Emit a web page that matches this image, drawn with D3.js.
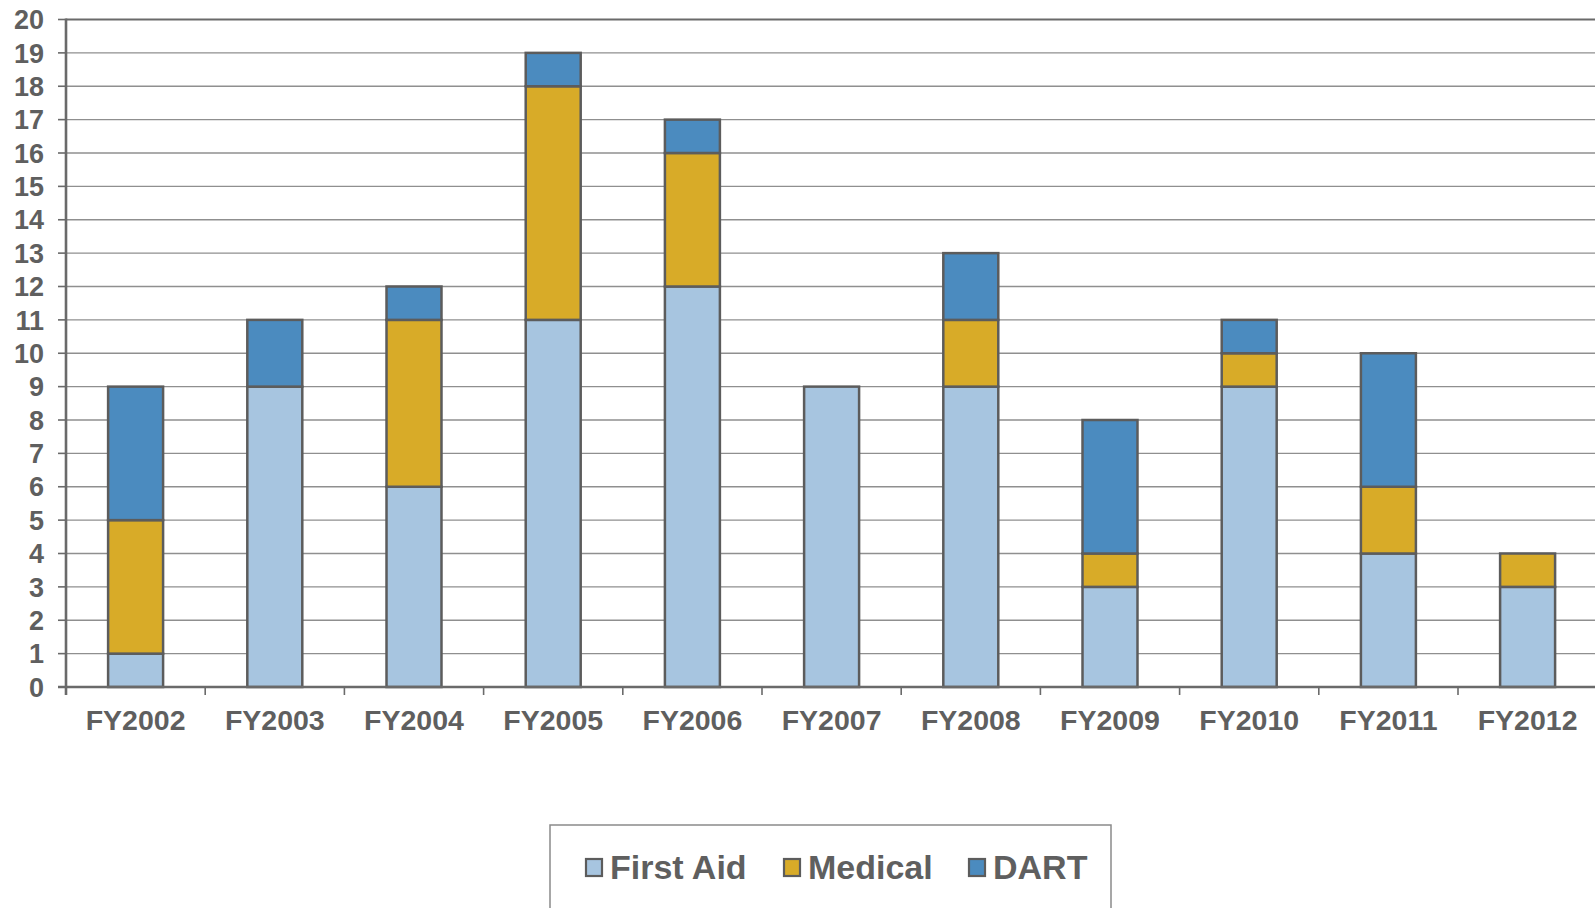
<!DOCTYPE html>
<html>
<head>
<meta charset="utf-8">
<script src="https://cdn.jsdelivr.net/npm/d3@7"></script>
<style>
  html, body { margin: 0; padding: 0; background: #fff; }
  svg { display: block; }
  text { font-family: "Liberation Sans", Arial, sans-serif; font-weight: bold; fill: #5f5f5f; }
</style>
</head>
<body>
<script>
const categories = ["FY2002","FY2003","FY2004","FY2005","FY2006","FY2007","FY2008","FY2009","FY2010","FY2011","FY2012"];
const firstAid = [1, 9, 6, 11, 12, 9, 9, 3, 9, 4, 3];
const medical  = [4, 0, 5, 7, 4, 0, 2, 1, 1, 2, 1];
const dart     = [4, 2, 1, 1, 1, 0, 2, 4, 1, 4, 0];
const seriesNames = ["First Aid", "Medical", "DART"];
const seriesColors = ["#a7c5e0", "#d8ab28", "#4b8bbf"];
const yTicks = d3.range(0, 21);

(function () {
const W = 1595, H = 908;
const plotLeft = 66, plotStep = 139.2, plotTop = 19.5, plotBottom = 687;

const svg = d3.select("body").append("svg").attr("width", W).attr("height", H);

const x = d3.scaleBand().domain(categories)
  .range([plotLeft, plotLeft + plotStep * categories.length])
  .paddingInner(0.605).paddingOuter(0.3025);
const y = d3.scaleLinear().domain([0, 20]).range([plotBottom, plotTop]);

// gridlines
svg.append("g").selectAll("line").data(yTicks.filter(d => d > 0)).join("line")
  .attr("x1", plotLeft).attr("x2", W)
  .attr("y1", d => y(d)).attr("y2", d => y(d))
  .attr("stroke", d => d === 20 ? "#6a6a6a" : "#8f8f8f")
  .attr("stroke-width", d => d === 20 ? 2.2 : 1.4);

// y tick marks
svg.append("g").selectAll("line").data(yTicks).join("line")
  .attr("x1", plotLeft - 8).attr("x2", plotLeft)
  .attr("y1", d => y(d)).attr("y2", d => y(d))
  .attr("stroke", "#6a6a6a").attr("stroke-width", 1.6);

// y labels
svg.append("g").selectAll("text").data(yTicks).join("text")
  .attr("x", 44).attr("y", d => y(d)).attr("dy", "0.36em")
  .attr("text-anchor", "end").attr("font-size", 27)
  .text(d => d);

// stacked data
const rows = categories.map((c, i) => ({ cat: c, "First Aid": firstAid[i], "Medical": medical[i], "DART": dart[i] }));
const stack = d3.stack().keys(seriesNames)(rows);

const bw = x.bandwidth();
stack.forEach((layer, li) => {
  svg.append("g").selectAll("rect").data(layer.filter(d => d[1] - d[0] > 0)).join("rect")
    .attr("x", d => x(d.data.cat)).attr("width", bw)
    .attr("y", d => y(d[1])).attr("height", d => y(d[0]) - y(d[1]))
    .attr("fill", seriesColors[li])
    .attr("stroke", "#5c5c5c").attr("stroke-width", 2.5);
});

// x axis line
svg.append("line").attr("x1", plotLeft - 8).attr("x2", W)
  .attr("y1", plotBottom).attr("y2", plotBottom)
  .attr("stroke", "#6a6a6a").attr("stroke-width", 2.6);
// x ticks at band boundaries
svg.append("g").selectAll("line").data(d3.range(0, categories.length + 1)).join("line")
  .attr("x1", i => plotLeft + i * x.step()).attr("x2", i => plotLeft + i * x.step())
  .attr("y1", plotBottom).attr("y2", plotBottom + 8)
  .attr("stroke", "#6a6a6a").attr("stroke-width", 1.6);
// y axis line
svg.append("line").attr("x1", plotLeft).attr("x2", plotLeft)
  .attr("y1", plotTop - 1).attr("y2", plotBottom + 8)
  .attr("stroke", "#6a6a6a").attr("stroke-width", 2.6);

// x labels
svg.append("g").selectAll("text").data(categories).join("text")
  .attr("x", d => x(d) + bw / 2).attr("y", 730)
  .attr("text-anchor", "middle").attr("font-size", 28.5)
  .text(d => d);

// legend
const lg = svg.append("g");
lg.append("rect").attr("x", 550).attr("y", 825).attr("width", 561).attr("height", 140)
  .attr("fill", "none").attr("stroke", "#8a8a8a").attr("stroke-width", 1.5);
const legendX = [585, 783, 968];
seriesNames.forEach((name, i) => {
  lg.append("rect").attr("x", legendX[i] + 1).attr("y", 859).attr("width", 16).attr("height", 17)
    .attr("fill", seriesColors[i]).attr("stroke", "#5c5c5c").attr("stroke-width", 2.2);
  lg.append("text").attr("x", legendX[i] + 25).attr("y", 879)
    .attr("font-size", 34).text(name);
});
})();
</script>
</body>
</html>
